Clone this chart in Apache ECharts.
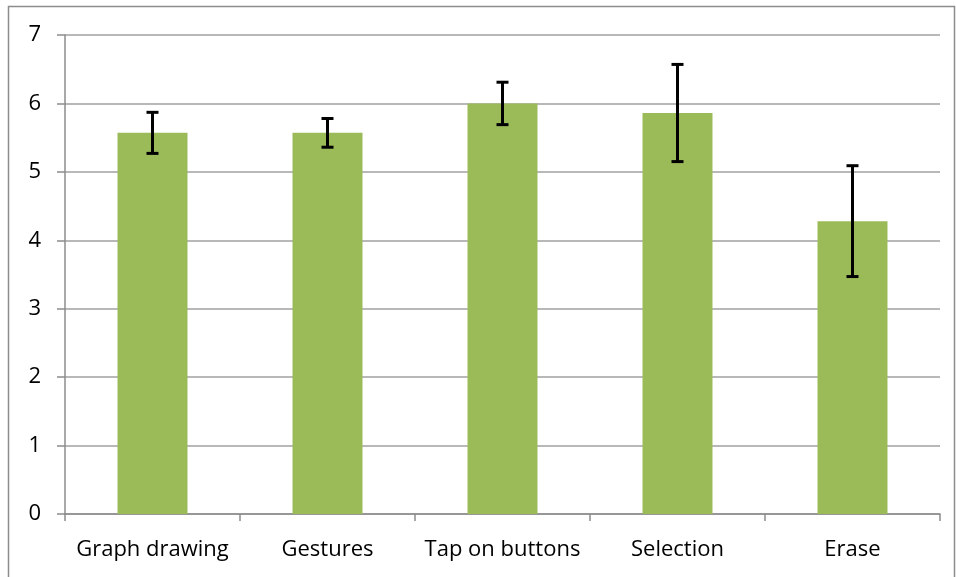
<!DOCTYPE html>
<html><head><meta charset="utf-8">
<script src="https://cdn.jsdelivr.net/npm/echarts@6/dist/echarts.min.js"></script>
<style>html,body{margin:0;padding:0;background:#fff}#c{width:956px;height:577px}</style>
</head><body><div id="c"></div>
<script>
const categories = ['Graph drawing', 'Gestures', 'Tap on buttons', 'Selection', 'Erase'];
const means = [5.57, 5.57, 6.0, 5.86, 4.28];
const errLow = [5.27, 5.36, 5.69, 5.15, 3.47];
const errHigh = [5.87, 5.78, 6.31, 6.57, 5.09];
const yTicks = [0, 1, 2, 3, 4, 5, 6, 7];

const chart = echarts.init(document.getElementById('c'));
const font = '"Open Sans", sans-serif';
chart.setOption({
  animation: false,
  graphic: [{ type: 'rect', shape: { x: 8.5, y: 6.5, width: 946, height: 580 },
    style: { fill: 'none', stroke: '#8c8c8c', lineWidth: 1.5 }, silent: true }],
  grid: { left: 65, right: 16, top: 35, bottom: 63 },
  xAxis: {
    type: 'category', data: categories,
    axisLine: { lineStyle: { color: '#8c8c8c', width: 1.5 } },
    axisTick: { show: true, length: 7, lineStyle: { color: '#8c8c8c', width: 1.5 }, alignWithLabel: false },
    axisLabel: { color: '#000', fontSize: 22, fontFamily: font, margin: 25, interval: 0 }
  },
  yAxis: {
    type: 'value', min: 0, max: 7, interval: 1,
    axisLine: { show: true, lineStyle: { color: '#8c8c8c', width: 1.5 } },
    axisTick: { show: true, length: 8, lineStyle: { color: '#8c8c8c', width: 1.5 } },
    axisLabel: { color: '#000', fontSize: 22, fontFamily: font, margin: 24,
      formatter: v => yTicks.includes(v) ? String(v) : '' },
    splitLine: { lineStyle: { color: '#a0a0a0', width: 1.5 } }
  },
  series: [{
    type: 'bar', data: means, barWidth: '40%',
    itemStyle: { color: '#9BBB59' }
  }, {
    type: 'custom',
    data: categories.map((c, i) => [i, errLow[i], errHigh[i]]),
    renderItem: function (params, api) {
      const x = api.value(0);
      const lo = api.coord([x, api.value(1)]);
      const hi = api.coord([x, api.value(2)]);
      const hw = 6;
      const st = { stroke: '#000', lineWidth: 3 };
      return { type: 'group', children: [
        { type: 'line', shape: { x1: lo[0], y1: lo[1], x2: hi[0], y2: hi[1] }, style: st },
        { type: 'line', shape: { x1: lo[0] - hw, y1: lo[1], x2: lo[0] + hw, y2: lo[1] }, style: st },
        { type: 'line', shape: { x1: hi[0] - hw, y1: hi[1], x2: hi[0] + hw, y2: hi[1] }, style: st }
      ]};
    },
    z: 10
  }]
});
</script></body></html>
